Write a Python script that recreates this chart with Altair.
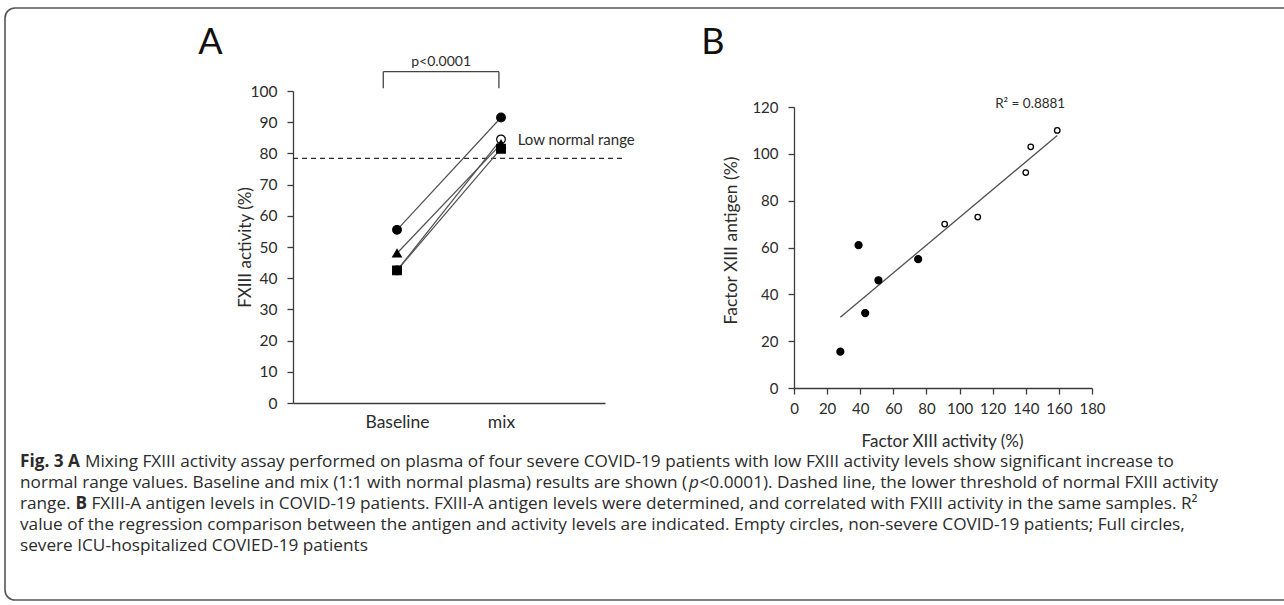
import altair as alt
import pandas as pd

CHART_FONT = "Lato"
CAP_FONT = "Open Sans"
INK = "#2b2b2b"
AXIS_INK = "#3c3c3c"

# ---------------- Panel A data ----------------
patient_ids = ["P4", "P1", "P2", "P3"]
patient_shapes = ["circle", "circle", "triangle-up", "square"]
patient_fills = ["white", "black", "black", "black"]
baseline_values = [42.5, 55.5, 48.0, 42.5]
mix_values = [84.5, 91.5, 83.0, 81.5]
condition_labels = ["Baseline", "mix"]
condition_positions = [1, 2]
a_y_ticks = [0, 10, 20, 30, 40, 50, 60, 70, 80, 90, 100]
threshold_value = 78.4
threshold_label = "Low normal range"
p_label = "p<0.0001"

# ---------------- Panel B data ----------------
activity = [28, 43, 39, 51, 75, 91, 111, 140, 143, 159]
antigen = [15.5, 32, 61, 46, 55, 70, 73, 92, 103, 110]
severity = ["severe"] * 5 + ["non-severe"] * 5
b_x_ticks = [0, 20, 40, 60, 80, 100, 120, 140, 160, 180]
b_y_ticks = [0, 20, 40, 60, 80, 100, 120]
r2_label = "R\u00b2 = 0.8881"

# ---------------- Caption text ----------------
cap1_bold = "Fig. 3 A"
cap1_rest = ("Mixing FXIII activity assay performed on plasma of four severe COVID-19 "
             "patients with low FXIII activity levels show significant increase to")
cap2_a = "normal range values. Baseline and mix (1:1 with normal plasma) results are shown ("
cap2_p = "p"
cap2_b = "<0.0001). Dashed line, the lower threshold of normal FXIII activity"
cap3_a = "range."
cap3_bold = "B"
cap3_b = ("FXIII-A antigen levels in COVID-19 patients. FXIII-A antigen levels were "
          "determined, and correlated with FXIII activity in the same samples. R\u00b2")
cap4 = ("value of the regression comparison between the antigen and activity levels are "
        "indicated. Empty circles, non-severe COVID-19 patients; Full circles,")
cap5 = "severe ICU-hospitalized COVIED-19 patients"

# ---------------- tables ----------------
rowsA = []
for pid, b, m in zip(patient_ids, baseline_values, mix_values):
    rowsA.append({"patient": pid, "pos": condition_positions[0], "value": b})
    rowsA.append({"patient": pid, "pos": condition_positions[1], "value": m})
dfA = pd.DataFrame(rowsA)
dfB = pd.DataFrame({"activity": activity, "antigen": antigen, "group": severity})

label_expr = " : ".join(
    f"datum.value == {p} ? '{l}'" for p, l in zip(condition_positions, condition_labels)
) + " : ''"


def txt(text, x, y, size, font=CAP_FONT, weight="normal", style="normal",
        align="left", baseline="middle", color=INK):
    return alt.Chart(pd.DataFrame({"t": [text]})).mark_text(
        align=align, baseline=baseline, fontSize=size, font=font,
        fontWeight=weight, fontStyle=style, color=color,
    ).encode(x=alt.value(x), y=alt.value(y), text="t:N")


# ---------------- Panel A ----------------
sxA = alt.Scale(domain=[0, 3], range=[293, 605], nice=False, zero=False)
syA = alt.Scale(domain=[0, 100], range=[403, 91], nice=False)
axA_x = alt.Axis(orient="bottom", offset=-202, values=condition_positions,
                 labelExpr=label_expr, ticks=False, tickSize=0, labelPadding=10,
                 labelFont=CHART_FONT, labelFontSize=17.5, labelColor=INK,
                 domainColor=AXIS_INK, domainWidth=1.3, grid=False, title=None,
                 labelFlush=False, labelOverlap=False)
axA_y = alt.Axis(orient="left", offset=-293, values=a_y_ticks, tickSize=6,
                 tickColor=AXIS_INK, tickWidth=1.3, labelPadding=10,
                 labelFont=CHART_FONT, labelFontSize=15.5, labelColor=INK,
                 domainColor=AXIS_INK, domainWidth=1.3, grid=False,
                 labelFlush=False, labelOverlap=False,
                 title="FXIII activity (%)", titleFont=CHART_FONT, titleFontSize=17,
                 titleFontWeight="normal", titleColor=INK, titleAngle=270,
                 titleX=-48, titleY=247, titleAlign="center", titleBaseline="middle")

XA = alt.X("pos:Q", scale=sxA, axis=axA_x)
YA = alt.Y("value:Q", scale=syA, axis=axA_y)

a_lines = alt.Chart(dfA).mark_line(color="#505050", strokeWidth=1.2).encode(
    x=XA, y=YA, detail="patient:N")
a_points = alt.Chart(dfA).mark_point(filled=True, size=75, stroke="black",
                                     strokeWidth=1.2, opacity=1).encode(
    x=XA, y=YA,
    shape=alt.Shape("patient:N", scale=alt.Scale(domain=patient_ids, range=patient_shapes), legend=None),
    fill=alt.Fill("patient:N", scale=alt.Scale(domain=patient_ids, range=patient_fills), legend=None),
)
a_thresh = alt.Chart(pd.DataFrame({"value": [threshold_value]})).mark_rule(
    strokeDash=[5, 4], color=INK, strokeWidth=1.3).encode(
    y=YA, x=alt.XDatum(0, scale=sxA, axis=axA_x), x2=alt.datum(3.17))
a_thresh_lbl = alt.Chart(pd.DataFrame({"t": [threshold_label]})).mark_text(
    align="left", baseline="middle", font=CHART_FONT, fontSize=15, color=INK).encode(
    x=alt.datum(2.16), y=alt.datum(84.2), text="t:N")
br_style = dict(color="#444444", strokeWidth=1.3)
a_br_left = alt.Chart(pd.DataFrame({"t": [0]})).mark_rule(**br_style).encode(
    x=alt.datum(0.868), y=alt.datum(100.9), y2=alt.datum(106.2))
a_br_right = alt.Chart(pd.DataFrame({"t": [0]})).mark_rule(**br_style).encode(
    x=alt.datum(1.98), y=alt.datum(100.9), y2=alt.datum(106.2))
a_br_top = alt.Chart(pd.DataFrame({"t": [0]})).mark_rule(**br_style).encode(
    x=alt.datum(0.868), x2=alt.datum(1.98), y=alt.datum(106.2))
a_p = alt.Chart(pd.DataFrame({"t": [p_label]})).mark_text(
    align="center", baseline="middle", font=CHART_FONT, fontSize=14, color=INK).encode(
    x=alt.datum(1.424), y=alt.datum(109.2), text="t:N")

panelA = alt.layer(a_thresh, a_lines, a_points, a_thresh_lbl,
                   a_br_left, a_br_right, a_br_top, a_p)

# ---------------- Panel B ----------------
sxB = alt.Scale(domain=[0, 180], range=[794, 1092], nice=False, zero=False)
syB = alt.Scale(domain=[0, 120], range=[388, 107], nice=False)
axB_x = alt.Axis(orient="bottom", offset=-217, values=b_x_ticks, tickSize=6,
                 tickColor=AXIS_INK, tickWidth=1.3, labelPadding=7,
                 labelFont=CHART_FONT, labelFontSize=15, labelColor=INK,
                 domainColor=AXIS_INK, domainWidth=1.3, grid=False,
                 labelFlush=False, labelOverlap=False,
                 title="Factor XIII activity (%)", titleFont=CHART_FONT, titleFontSize=17,
                 titleFontWeight="normal", titleColor=INK,
                 titleX=942, titleY=53, titleAlign="center", titleBaseline="middle")
axB_y = alt.Axis(orient="left", offset=-794, values=b_y_ticks, tickSize=6,
                 tickColor=AXIS_INK, tickWidth=1.3, labelPadding=10,
                 labelFont=CHART_FONT, labelFontSize=15, labelColor=INK,
                 domainColor=AXIS_INK, domainWidth=1.3, grid=False,
                 labelFlush=False, labelOverlap=False,
                 title="Factor XIII antigen (%)", titleFont=CHART_FONT, titleFontSize=17.5,
                 titleFontWeight="normal", titleColor=INK, titleAngle=270,
                 titleX=-63, titleY=240, titleAlign="center", titleBaseline="middle")

XB = alt.X("activity:Q", scale=sxB, axis=axB_x)
YB = alt.Y("antigen:Q", scale=syB, axis=axB_y)

b_reg = alt.Chart(dfB).transform_regression("activity", "antigen").mark_line(
    color="#505050", strokeWidth=1.3).encode(x=XB, y=YB)
b_points = alt.Chart(dfB).mark_point(filled=True, shape="circle", stroke="black",
                                     strokeWidth=1.3, opacity=1).encode(
    x=XB, y=YB,
    fill=alt.Fill("group:N", scale=alt.Scale(domain=["severe", "non-severe"], range=["black", "white"]), legend=None),
    size=alt.Size("group:N", scale=alt.Scale(domain=["severe", "non-severe"], range=[48, 30]), legend=None),
)
b_r2 = alt.Chart(pd.DataFrame({"t": [r2_label]})).mark_text(
    align="left", baseline="middle", font=CHART_FONT, fontSize=13.5, color=INK).encode(
    x=alt.datum(121.5), y=alt.datum(121.3), text="t:N")

panelB = alt.layer(b_reg, b_points, b_r2)

# ---------------- Decorations ----------------
frame = alt.Chart(pd.DataFrame({"t": [0]})).mark_rect(
    fillOpacity=0, stroke="#555555", strokeWidth=1.6, cornerRadius=10).encode(
    x=alt.value(5), x2=alt.value(1300), y=alt.value(8), y2=alt.value(600))

letterA = txt("A", 210.5, 54, 36, font=CHART_FONT, align="center", baseline="alphabetic", color="#111")
letterB = txt("B", 713, 54, 36, font=CHART_FONT, align="center", baseline="alphabetic", color="#111")

CAP = 17.2
L1, L2, L3, L4, L5 = 462, 483, 504, 525, 546
caption = [
    txt(cap1_bold, 20, L1, CAP, weight="bold"),
    txt(cap1_rest, 85, L1, CAP),
    txt(cap2_a, 20, L2, CAP),
    txt(cap2_p, 689, L2, CAP, style="italic"),
    txt(cap2_b, 699.5, L2, CAP),
    txt(cap3_a, 20, L3, CAP),
    txt(cap3_bold, 75.5, L3, CAP, weight="bold"),
    txt(cap3_b, 91.5, L3, CAP),
    txt(cap4, 20, L4, CAP),
    txt(cap5, 20, L5, CAP),
]

chart = alt.layer(frame, panelA, panelB, letterA, letterB, *caption).resolve_scale(
    x="independent", y="independent", fill="independent", size="independent",
    shape="independent",
).properties(
    width=1284, height=605, padding=0, background="white",
    autosize=alt.AutoSizeParams(type="none"),
).configure_view(strokeWidth=0)

chart.save("out.html", embed_options={"renderer": "svg", "actions": False})
